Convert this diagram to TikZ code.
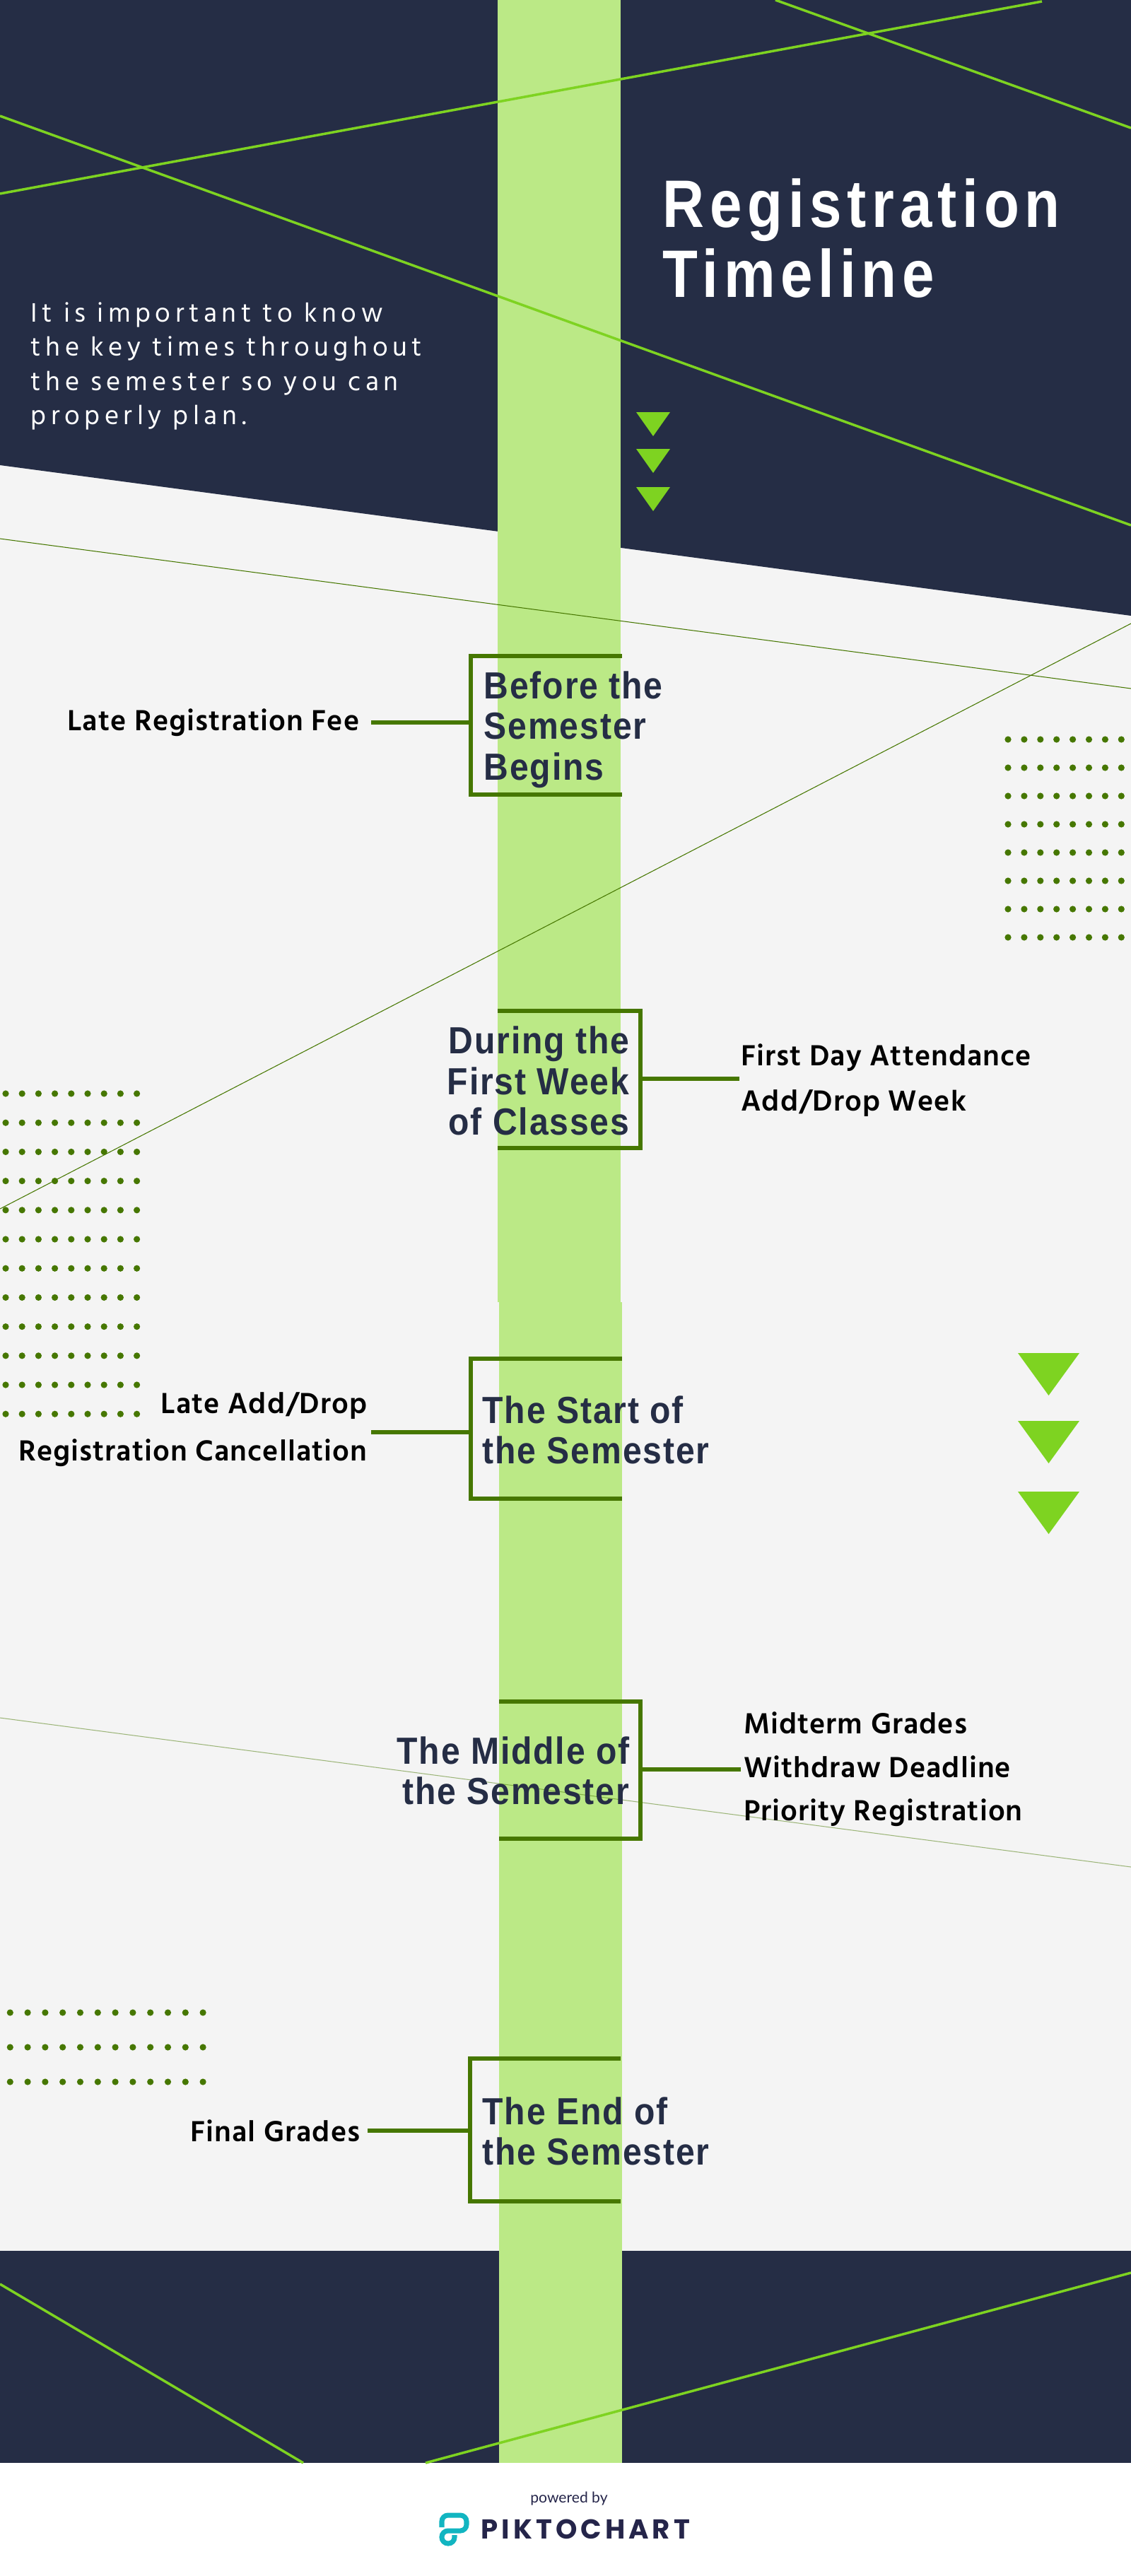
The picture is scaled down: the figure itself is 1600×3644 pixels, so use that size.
\documentclass[tikz,border=0pt]{standalone}
\usepackage{fontspec}
\usepackage{xcolor}
\usetikzlibrary{positioning}
\newfontfamily\headfont[FakeStretch=0.9,LetterSpace=3.5]{Liberation Sans Bold}
\newfontfamily\titlefont[FakeStretch=0.86,LetterSpace=8.2]{Liberation Sans Bold}
\newfontfamily\labelfont[LetterSpace=2.5]{Hind Madurai SemiBold}
\newfontfamily\introfont[LetterSpace=17]{Hind Madurai}
\newfontfamily\footfont{Lato}
\newfontfamily\brandfont[LetterSpace=13]{Poppins Bold}
\definecolor{navy}{HTML}{252D45}
\definecolor{paper}{HTML}{F4F4F4}
\definecolor{bar}{HTML}{BBE986}
\definecolor{lime}{HTML}{7ED321}
\definecolor{moss}{HTML}{467700}
\definecolor{teal}{HTML}{12B5C1}
\definecolor{ink}{HTML}{25254A}
\tikzset{
  bright/.style={lime,line width=1pt},
  thin moss/.style={moss,line width=0.3pt},
  bracket/.style={moss,line width=1.5pt},
  head/.style={navy,font=\headfont\fontsize{15.2}{16.4}\selectfont,inner sep=0pt},
  item/.style={black,font=\labelfont\fontsize{12}{18}\selectfont,inner ysep=0pt}}
\newcommand{\tris}[5]{% <left> <right> <height> <tops>
  \foreach \yy in {#4} \fill[lime] (#1,\yy) -- (#2,\yy) -- ({(#1+#2)/2},\yy+#3) -- cycle;}
\newcommand{\dotgrid}[6]{% <x0> <dx> <columns> <y0> <dy> <rows>
  \foreach \cc in {1,...,#3} \foreach \rr in {1,...,#6}
    \fill[moss] ({#1+(\cc-1)*#2},{#4+(\rr-1)*#5}) circle [radius=4.6];}
\begin{document}
\begin{tikzpicture}[x=0.01cm,y=-0.01cm]
  \useasboundingbox (0,0) rectangle (1600,3644);
  \fill[white] (0,0) rectangle (1600,3644);
  \fill[paper] (0,640) rectangle (1600,3184);
  \fill[navy] (0,0) -- (1600,0) -- (1600,871) -- (0,658) -- cycle;
  \fill[navy] (0,3184) rectangle (1600,3484);
  \fill[bar] (704,0) rectangle (878,1842);
  \fill[bar] (706,1842) rectangle (880,3484);
  \draw[bright] (0,274) -- (1474,2);
  \draw[bright] (1097,0) -- (1600,181);
  \draw[bright] (0,164) -- (1600,743);
  \draw[bright] (0,3231) -- (429,3484);
  \draw[bright] (602,3484) -- (1600,3215);
  \draw[thin moss] (0,762) -- (1600,974);
  \draw[thin moss] (0,1710) -- (1600,882);
  \draw[thin moss,opacity=0.5] (0,2430) -- (1600,2641);
  \tris{900}{948}{34}{583,635,689}
  \tris{24}{72}{33}{1168,1222,1274}
  \tris{1440}{1527}{60}{1914,2010,2110}
  \tris{578}{625}{33}{2604,2658,2712}
  \dotgrid{1426}{22.9}{8}{1046}{40}{8}
  \dotgrid{8}{23.2}{9}{1547}{41.2}{12}
  \dotgrid{14.3}{24.8}{12}{2847}{49}{3}
  \node[white,font=\titlefont\fontsize{27}{28}\selectfont,align=left,anchor=west,inner sep=0pt] (title) at (937,337) {Registration\\Timeline};
  \node[white,font=\introfont\fontsize{11}{13.75}\selectfont,align=left,anchor=west,inner sep=0pt] (intro) at (43,518) {It is important to know\\the key times throughout\\the semester so you can\\properly plan.};
  % before the semester
  \draw[bracket] (880,928) -| (666,1124) -- (880,1124);
  \coordinate (beforejoin) at (666,1022);
  \node[head,align=left,anchor=west] (before) at (684,1032) {Before the\\Semester\\Begins};
  \node[item,anchor=east,inner xsep=4.5pt] (latefee) at (525,1022) {Late Registration Fee};
  \draw[bracket] (latefee.east |- beforejoin) -- (beforejoin);
  % first week
  \draw[bracket] (704,1430) -| (906,1624) -- (704,1624);
  \coordinate (weekjoin) at (906,1526);
  \node[head,align=right,anchor=east] (week) at (891,1529) {During the\\First Week\\of Classes};
  \node[item,align=left,anchor=west,inner xsep=0.5pt] (attend) at (1046,1528) {First Day Attendance\\Add/Drop Week};
  \draw[bracket] (weekjoin) -- (attend.west |- weekjoin);
  % start
  \draw[bracket] (880,1922) -| (666,2120) -- (880,2120);
  \coordinate (startjoin) at (666,2026);
  \node[head,align=left,anchor=west] (start) at (682,2023) {The Start of\\the Semester};
  \node[item,align=right,anchor=east,inner xsep=1.4pt] (adddrop) at (525,2022) {Late Add/Drop\\[1.2pt]Registration Cancellation};
  \draw[bracket] (adddrop.east |- startjoin) -- (startjoin);
  % middle
  \draw[bracket] (706,2407) -| (906,2601) -- (706,2601);
  \coordinate (midjoin) at (906,2503);
  \node[head,align=right,anchor=east] (middle) at (891,2505) {The Middle of\\the Semester};
  \node[item,align=left,anchor=west,inner xsep=1pt] (midterm) at (1048,2503) {Midterm Grades\\[-0.4pt]Withdraw Deadline\\[-0.6pt]Priority Registration};
  \draw[bracket] (midjoin) -- (midterm.west |- midjoin);
  % end
  \draw[bracket] (878,2912) -| (665,3114) -- (878,3114);
  \coordinate (endjoin) at (665,3014);
  \node[head,align=left,anchor=west] (end) at (682,3015) {The End of\\the Semester};
  \node[item,anchor=east,inner xsep=2.8pt] (final) at (520,3014) {Final Grades};
  \draw[bracket] (final.east |- endjoin) -- (endjoin);
  % footer
  \node[ink,font=\footfont\fontsize{6}{8}\selectfont,inner sep=0pt] (powered) at (805,3534) {powered by};
  \node[ink,font=\brandfont\fontsize{11}{12}\selectfont,anchor=west,inner sep=0pt] (brand) at (680,3578) {PIKTOCHART};
  \draw[teal,line width=2pt,rounded corners=2.5pt] (625,3575) -- (625,3558) -- (660,3558) -- (660,3580) -- (625,3580) -- (625,3598) -- (643,3598) -- (643,3586);
\end{tikzpicture}
\end{document}
